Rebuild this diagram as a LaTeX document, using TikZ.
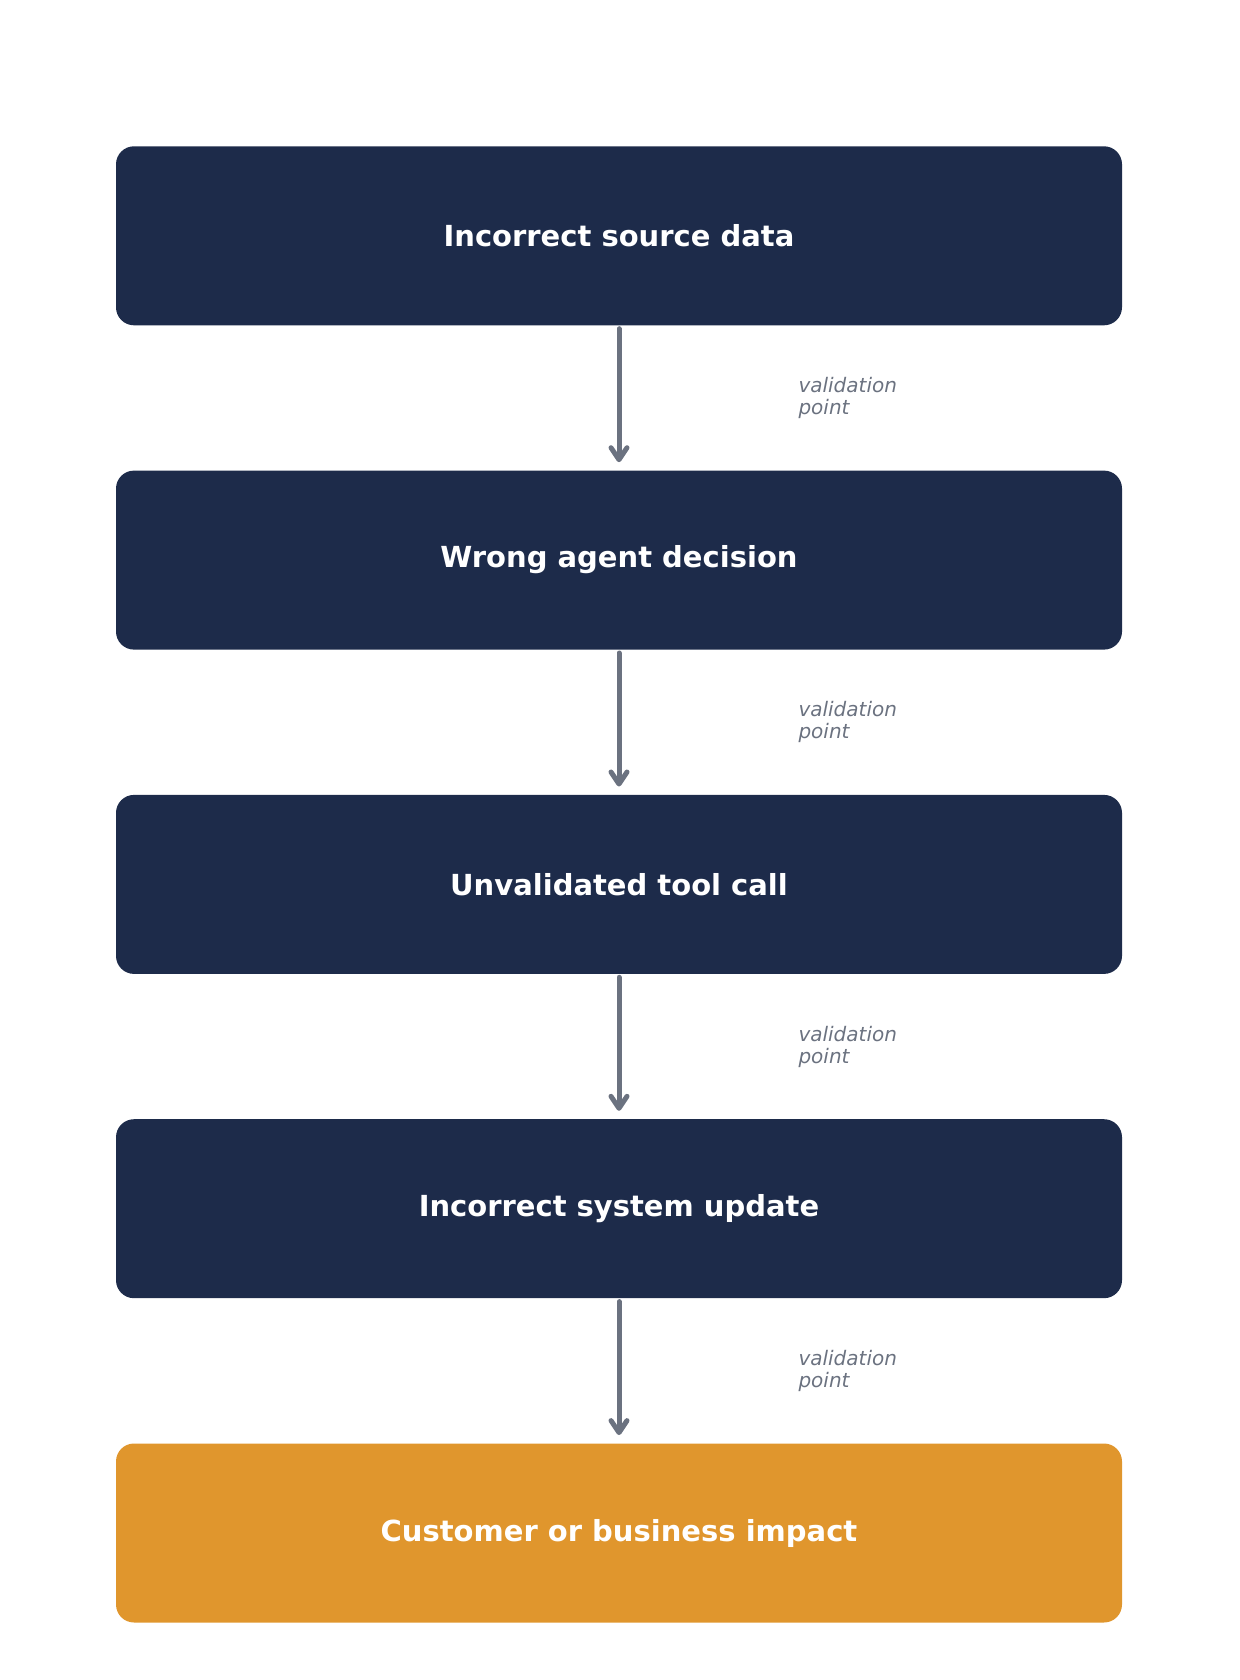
\documentclass[tikz,border=0pt]{standalone}
\usepackage{fontspec}
\setmainfont{DejaVu Sans}
\usepackage{tikz}
\usetikzlibrary{positioning}
\usetikzlibrary{arrows.meta}
\usepackage{xcolor}

\definecolor{navy}{HTML}{1D2B4A}
\definecolor{impactorange}{HTML}{E0962D}
\definecolor{flowgray}{HTML}{6B7280}

\begin{document}
\begin{tikzpicture}[
    node distance=72.25pt,
    box/.style = {
        fill=navy, rounded corners=9pt, minimum width=503pt,
        minimum height=89.5pt, inner sep=0pt,
        text=white, font=\fontsize{14.5pt}{17pt}\selectfont\bfseries
    },
    impact/.style = {box, fill=impactorange},
    flow/.style = {
        draw=flowgray, line width=2.5pt, line cap=round,
        -{Straight Barb[length=6pt, width=8pt, line cap=round, line join=round]},
        shorten <=1.5pt, shorten >=4pt
    },
    note/.style = {
        inner sep=0pt, align=left, text=flowgray,
        font=\fontsize{10pt}{11pt}\selectfont\itshape
    }
]
\useasboundingbox (0,0) rectangle (620pt,-840pt);

\node[box] (source) at (309.5pt,-117.9pt) {Incorrect source data};
\node[box, below=of source] (decision) {Wrong agent decision};
\node[box, below=of decision] (toolcall) {Unvalidated tool call};
\node[box, below=of toolcall] (update) {Incorrect system update};
\node[impact, below=of update] (impact) {Customer or business impact};

\draw[flow] (source) -- node[note, midway, right=88.5pt] {validation\\point} (decision);
\draw[flow] (decision) -- node[note, midway, right=88.5pt] {validation\\point} (toolcall);
\draw[flow] (toolcall) -- node[note, midway, right=88.5pt] {validation\\point} (update);
\draw[flow] (update) -- node[note, midway, right=88.5pt] {validation\\point} (impact);
\end{tikzpicture}
\end{document}
